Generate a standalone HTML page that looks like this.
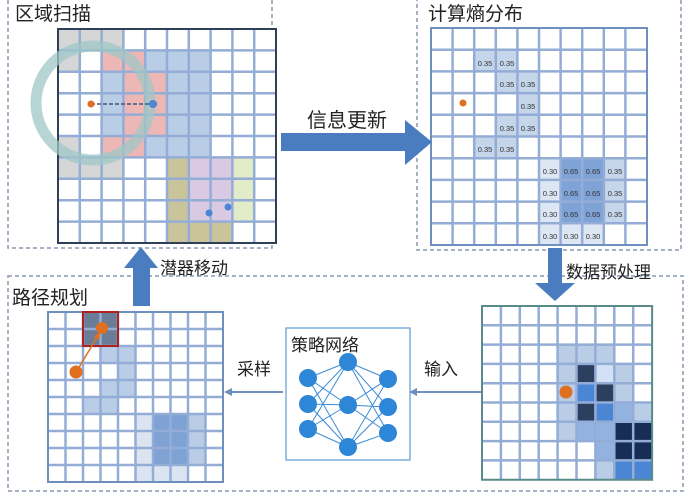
<!DOCTYPE html>
<html><head><meta charset="utf-8"><style>
html,body{margin:0;padding:0;background:#fff;}
svg{display:block;font-family:"Liberation Sans","Noto Sans CJK SC",sans-serif;}
</style></head><body>
<svg width="689" height="499" viewBox="0 0 689 499" xmlns="http://www.w3.org/2000/svg">
<defs>
<marker id="ah" markerWidth="8" markerHeight="8" refX="6" refY="4" orient="auto" markerUnits="userSpaceOnUse"><path d="M0,0 L8,4 L0,8 z" fill="#6f8fbf"/></marker>
<marker id="ao" markerWidth="7" markerHeight="7" refX="5" refY="3.5" orient="auto" markerUnits="userSpaceOnUse"><path d="M0,0 L7,3.5 L0,7 z" fill="#e07020"/></marker>
</defs>
<!-- dashed panels -->
<rect x="8" y="-2" width="264" height="250" fill="none" stroke="#8a9ab0" stroke-width="1.5" stroke-dasharray="4,3"/>
<rect x="417" y="-2" width="264" height="252" fill="none" stroke="#8a9ab0" stroke-width="1.5" stroke-dasharray="4,3"/>
<rect x="8" y="276" width="675" height="215" fill="none" stroke="#8a9ab0" stroke-width="1.5" stroke-dasharray="4,3"/>

<text x="15" y="20" font-size="19" fill="#222">区域扫描</text>
<text x="428" y="20" font-size="19" fill="#222">计算熵分布</text>
<text x="12" y="304" font-size="19" fill="#222">路径规划</text>

<!-- Grid 1 -->
<g transform="translate(58,29) scale(21.8,21.4)">
<rect x="0" y="0" width="10" height="10" fill="#fff"/>
<g fill="#d6d6d6"><rect x="0" y="0" width="3" height="1"/><rect x="0" y="1" width="1" height="1"/><rect x="0" y="5" width="1" height="1"/><rect x="0" y="6" width="3" height="1"/></g>
<g fill="#b9cde6"><rect x="4" y="1" width="3" height="1"/><rect x="2" y="2" width="1" height="3"/><rect x="5" y="2" width="2" height="3"/><rect x="4" y="5" width="3" height="1"/></g>
<g fill="#ecb7b5"><rect x="2" y="1" width="2" height="1"/><rect x="3" y="2" width="2" height="3"/><rect x="2" y="5" width="2" height="1"/></g>
<g fill="#c9c49a"><rect x="5" y="6" width="1" height="4"/><rect x="6" y="9" width="2" height="1"/></g>
<g fill="#d9c9e3"><rect x="6" y="6" width="2" height="3"/></g>
<g fill="#e3ecc9"><rect x="8" y="6" width="1" height="3"/></g>
<path vector-effect="non-scaling-stroke" stroke="#93add6" stroke-width="2.5" fill="none" d="M1,0V10M2,0V10M3,0V10M4,0V10M5,0V10M6,0V10M7,0V10M8,0V10M9,0V10M0,1H10M0,2H10M0,3H10M0,4H10M0,5H10M0,6H10M0,7H10M0,8H10M0,9H10"/>
<rect x="0" y="0" width="10" height="10" fill="none" stroke="#2f3f58" stroke-width="2" vector-effect="non-scaling-stroke"/>
</g>
<circle cx="93" cy="103" r="57" fill="none" stroke="#9fc7c7" stroke-width="11" opacity="0.75"/>
<line x1="91" y1="104" x2="153" y2="104" stroke="#3d5a80" stroke-width="1.5" stroke-dasharray="4,2"/>
<circle cx="91" cy="104" r="3.5" fill="#e07020"/>
<circle cx="153" cy="104" r="4" fill="#4a86d4"/>
<circle cx="209" cy="213" r="3.5" fill="#4a86d4"/>
<circle cx="228" cy="207" r="3.5" fill="#4a86d4"/>

<!-- Grid 2 -->
<g transform="translate(431,28) scale(21.6,21.7)">
<rect x="0" y="0" width="10" height="10" fill="#fff"/>
<g fill="#c5d5ea"><rect x="2" y="1" width="2" height="1"/><rect x="3" y="2" width="2" height="1"/><rect x="4" y="3" width="1" height="1"/><rect x="3" y="4" width="2" height="1"/><rect x="2" y="5" width="2" height="1"/><rect x="8" y="6" width="1" height="3"/></g>
<g fill="#dde7f3"><rect x="5" y="6" width="1" height="4"/><rect x="6" y="9" width="2" height="1"/></g>
<g fill="#7fa3d6"><rect x="6" y="6" width="2" height="3"/></g>
<path vector-effect="non-scaling-stroke" stroke="#93add6" stroke-width="2.5" fill="none" d="M1,0V10M2,0V10M3,0V10M4,0V10M5,0V10M6,0V10M7,0V10M8,0V10M9,0V10M0,1H10M0,2H10M0,3H10M0,4H10M0,5H10M0,6H10M0,7H10M0,8H10M0,9H10"/>
<rect x="0" y="0" width="10" height="10" fill="none" stroke="#6f8fbf" stroke-width="2" vector-effect="non-scaling-stroke"/>
</g>
<circle cx="463" cy="103" r="3.5" fill="#e07020"/>
<g font-size="7.5" fill="#333" text-anchor="middle">
<text x="485" y="66">0.35</text><text x="507" y="66">0.35</text>
<text x="507" y="87">0.35</text><text x="528" y="87">0.35</text>
<text x="528" y="109">0.35</text>
<text x="507" y="131">0.35</text><text x="528" y="131">0.35</text>
<text x="485" y="152">0.35</text><text x="507" y="152">0.35</text>
<text x="550" y="174">0.30</text><text x="571" y="174">0.65</text><text x="593" y="174">0.65</text><text x="615" y="174">0.35</text>
<text x="550" y="196">0.30</text><text x="571" y="196">0.65</text><text x="593" y="196">0.65</text><text x="615" y="196">0.35</text>
<text x="550" y="217">0.30</text><text x="571" y="217">0.65</text><text x="593" y="217">0.65</text><text x="615" y="217">0.35</text>
<text x="550" y="239">0.30</text><text x="571" y="239">0.30</text><text x="593" y="239">0.30</text>
</g>

<!-- middle arrow -->
<path d="M281,133 H405 V120 L432,142 L405,165 V151 H281 Z" fill="#4a7cc0"/>
<text x="307" y="127" font-size="20" fill="#222">信息更新</text>

<!-- down arrow -->
<path d="M548,248 H562 V283 H575 L555,301 L535,283 H548 Z" fill="#4a7cc0"/>
<text x="566" y="278" font-size="17" fill="#222">数据预处理</text>

<!-- up arrow -->
<path d="M133,306 V268 H124 L141,247 L158,268 H150 V306 Z" fill="#4a7cc0"/>
<text x="160" y="274" font-size="17" fill="#222">潜器移动</text>

<!-- Grid 3 -->
<g transform="translate(48,312) scale(17.5,17)">
<rect x="0" y="0" width="10" height="10" fill="#fff"/>
<g fill="#b9cde6"><rect x="3" y="2" width="2" height="1"/><rect x="4" y="3" width="1" height="1"/><rect x="3" y="4" width="2" height="1"/><rect x="2" y="5" width="2" height="1"/><rect x="8" y="6" width="1" height="3"/></g>
<g fill="#dbe5f2"><rect x="5" y="6" width="1" height="4"/><rect x="6" y="9" width="2" height="1"/></g>
<g fill="#7ea2d4"><rect x="6" y="6" width="2" height="3"/></g>
<rect x="2" y="0" width="2" height="2" fill="#6b7d96"/>
<path vector-effect="non-scaling-stroke" stroke="#93add6" stroke-width="2.5" fill="none" d="M1,0V10M2,0V10M3,0V10M4,0V10M5,0V10M6,0V10M7,0V10M8,0V10M9,0V10M0,1H10M0,2H10M0,3H10M0,4H10M0,5H10M0,6H10M0,7H10M0,8H10M0,9H10"/>
<rect x="0" y="0" width="10" height="10" fill="none" stroke="#6f8fbf" stroke-width="2" vector-effect="non-scaling-stroke"/>
</g>
<rect x="83" y="312" width="35" height="34" fill="none" stroke="#b02020" stroke-width="2"/>
<line x1="78" y1="369" x2="99" y2="334" stroke="#e07020" stroke-width="1.5" marker-end="url(#ao)"/>
<circle cx="102" cy="328" r="6" fill="#e07020"/>
<circle cx="76" cy="372" r="6.5" fill="#e07020"/>

<!-- policy network -->
<rect x="286" y="328" width="124" height="132" fill="#fff" stroke="#5b9bd5" stroke-width="1.2"/>
<text x="291" y="351" font-size="17" fill="#222">策略网络</text>
<g stroke="#3a8ad6" stroke-width="1">
<path d="M308,378L348,362M308,378L348,405M308,378L348,447M308,404L348,362M308,404L348,405M308,404L348,447M308,429L348,362M308,429L348,405M308,429L348,447M348,362L388,379M348,362L388,407M348,362L388,433M348,405L388,379M348,405L388,407M348,405L388,433M348,447L388,379M348,447L388,407M348,447L388,433"/>
</g>
<g fill="#2e86d6">
<circle cx="308" cy="378" r="9"/><circle cx="308" cy="404" r="9"/><circle cx="308" cy="429" r="9"/>
<circle cx="348" cy="362" r="9"/><circle cx="348" cy="405" r="9"/><circle cx="348" cy="447" r="9"/>
<circle cx="388" cy="379" r="9"/><circle cx="388" cy="407" r="9"/><circle cx="388" cy="433" r="9"/>
</g>

<!-- connectors -->
<line x1="481" y1="392" x2="411" y2="392" stroke="#6f8fbf" stroke-width="2" marker-end="url(#ah)"/>
<text x="424" y="375" font-size="17" fill="#222">输入</text>
<line x1="283" y1="392" x2="226" y2="392" stroke="#6f8fbf" stroke-width="2" marker-end="url(#ah)"/>
<text x="237" y="375" font-size="17" fill="#222">采样</text>

<!-- Grid 4 -->
<g transform="translate(482,306) scale(18.9,19.3)">
<rect x="0" y="0" width="9" height="9" fill="#fff"/>
<g fill="#b9cde6"><rect x="4" y="2" width="3" height="1"/><rect x="4" y="3" width="1" height="4"/><rect x="7" y="3" width="1" height="2"/><rect x="8" y="5" width="1" height="1"/><rect x="6" y="8" width="1" height="1"/></g>
<rect x="6" y="3" width="1" height="1" fill="#d2e1f5"/>
<g fill="#2c3f5e"><rect x="5" y="3" width="1" height="1"/><rect x="6" y="4" width="1" height="1"/><rect x="5" y="5" width="1" height="1"/></g>
<g fill="#4a86d4"><rect x="5" y="4" width="1" height="1"/><rect x="6" y="5" width="1" height="1"/><rect x="7" y="8" width="2" height="1"/></g>
<g fill="#92b2e0"><rect x="7" y="5" width="1" height="1"/><rect x="5" y="6" width="2" height="1"/><rect x="6" y="7" width="1" height="1"/></g>
<g fill="#162d55"><rect x="7" y="6" width="2" height="2"/></g>
<path vector-effect="non-scaling-stroke" stroke="#93add6" stroke-width="2.5" fill="none" d="M1,0V9M2,0V9M3,0V9M4,0V9M5,0V9M6,0V9M7,0V9M8,0V9M0,1H9M0,2H9M0,3H9M0,4H9M0,5H9M0,6H9M0,7H9M0,8H9"/>
<rect x="0" y="0" width="9" height="9" fill="none" stroke="#5a8a8a" stroke-width="2" vector-effect="non-scaling-stroke"/>
</g>
<circle cx="566" cy="392" r="6.5" fill="#e07020"/>
</svg>
</body></html>
